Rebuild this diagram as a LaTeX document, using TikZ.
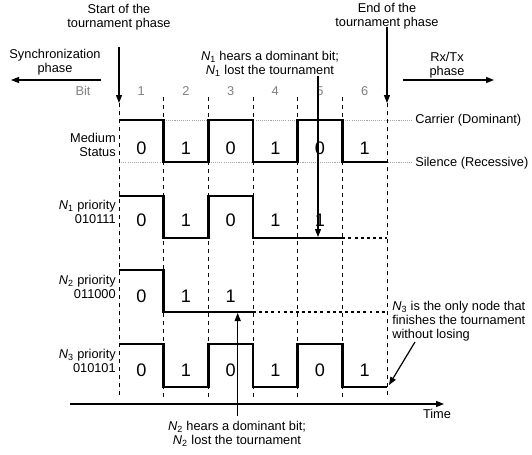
\documentclass[tikz,border=0pt]{standalone}
\usepackage{fontspec}
\setmainfont{Liberation Sans}
\usetikzlibrary{arrows.meta}
\begin{document}
\begin{tikzpicture}[x=0.75pt,y=-0.75pt,
  lbl/.style={font=\fontsize{9.6}{10.5}\selectfont, inner sep=0pt, align=center},
  lblr/.style={lbl, align=right, anchor=east},
  bitno/.style={font=\fontsize{9.6}{10.5}\selectfont, text=gray, inner sep=0pt},
  digit/.style={font=\fontsize{13.6}{13.6}\selectfont, inner sep=0pt},
  wave/.style={line width=2.2pt, line join=miter},
  wavedot/.style={line width=2.2pt, dash pattern=on 2.2pt off 2.4pt},
  slot/.style={line width=0.7pt, dash pattern=on 3pt off 3pt},
  guide/.style={gray!70, line width=0.5pt, dash pattern=on 0.8pt off 0.8pt},
  arr/.style={line width=0.9pt, -{Triangle[length=6pt,width=4.5pt]}}]
\useasboundingbox (0,0) rectangle (532,454);

% bit boundaries
\def\xa{119}\def\xb{163.7}\def\xc{208.3}\def\xd{253}\def\xe{297.7}\def\xf{342.3}\def\xg{387}

% guide levels of the medium
\draw[guide] (\xa,120) -- (413,120);
\draw[guide] (\xa,162) -- (413,162);
\node[lbl, anchor=west] (carrier) at (415,120) {Carrier (Dominant)};
\node[lbl, anchor=west] (silence) at (415,163) {Silence (Recessive)};

% slot separators
\foreach \x in {\xb,\xc,\xd,\xe,\xf} \draw[slot] (\x,97) -- (\x,397);
\draw[slot] (\xa,103) -- (\xa,397);
\draw[slot] (\xg,103) -- (\xg,397);

% bit numbers
\node[bitno] (bitlbl) at (83,91) {Bit};
\foreach \i/\x in {1/141.3,2/186,3/230.7,4/275.3,5/320,6/364.7}
  \node[bitno] (bit\i) at (\x,91) {\i};

% medium status
\node[lblr] (medlbl) at (116,144.5) {Medium\\Status};
\draw[wave] (\xa,120) -- (\xb,120) -- (\xb,162) -- (\xc,162) -- (\xc,120) -- (\xd,120)
  -- (\xd,162) -- (\xe,162) -- (\xe,120) -- (\xf,120) -- (\xf,162) -- (\xg,162);
\foreach \i/\x/\v in {1/141.3/0,2/186/1,3/230.7/0,4/275.3/1,5/320/0,6/364.7/1}
  \node[digit] (m\i) at (\x,148) {\v};

% node N1
\node[lblr] (n1lbl) at (116,211.5) {\textit{N}\textsubscript{1} priority\\010111};
\draw[wave] (\xa,196) -- (\xb,196) -- (\xb,238) -- (\xc,238) -- (\xc,196) -- (\xd,196)
  -- (\xd,238) -- (\xf,238);
\draw[wavedot] (\xf,238) -- (\xg,238);
\foreach \i/\x/\v in {1/141.3/0,2/186/1,3/230.7/0,4/275.3/1,5/320/1}
  \node[digit] (a\i) at (\x,220) {\v};

% node N2
\node[lblr] (n2lbl) at (116,287) {\textit{N}\textsubscript{2} priority\\011000};
\draw[wave] (\xa,270) -- (\xb,270) -- (\xb,312) -- (\xd,312);
\draw[wavedot] (\xd,312) -- (\xg,312);
\foreach \i/\x/\v in {1/141.3/0,2/186/1,3/230.7/1}
  \node[digit] (b\i) at (\x,296) {\v};

% node N3
\node[lblr] (n3lbl) at (116,361) {\textit{N}\textsubscript{3} priority\\010101};
\draw[wave] (\xa,344) -- (\xb,344) -- (\xb,387) -- (\xc,387) -- (\xc,344) -- (\xd,344)
  -- (\xd,387) -- (\xe,387) -- (\xe,344) -- (\xf,344) -- (\xf,387) -- (\xg,387);
\foreach \i/\x/\v in {1/141.3/0,2/186/1,3/230.7/0,4/275.3/1,5/320/0,6/364.7/1}
  \node[digit] (c\i) at (\x,370) {\v};

% time axis
\coordinate (t0) at (70,404);
\coordinate (t1) at (444,404);
\draw[arr] (t0) -- (t1);
\node[lbl] (time) at (437,414) {Time};

% phase boundaries
\node[lbl] (start) at (119,17) {Start of the\\tournament phase};
\coordinate (startend) at (\xa,103);
\draw[arr] (\xa,47) -- (startend);
\node[lbl] (end) at (387,16) {End of the\\tournament phase};
\coordinate (endend) at (\xg,103);
\draw[arr] (\xg,27) -- (endend);

\node[lbl] (sync) at (55,62) {Synchronization\\phase};
\coordinate (synca) at (101,80);
\coordinate (syncb) at (11,80);
\draw[arr] (synca) -- (syncb);

\node[lbl] (rxtx) at (447,65) {Rx/Tx\\phase};
\coordinate (rxa) at (403,80);
\coordinate (rxb) at (494,80);
\draw[arr] (rxa) -- (rxb);

% N1 loses
\node[lbl] (n1note) at (270,64) {\textit{N}\textsubscript{1} hears a dominant bit;\\\textit{N}\textsubscript{1} lost the tournament};
\coordinate (n1hit) at (318,237);
\draw[arr] (318,76) -- (n1hit);

% N2 loses
\node[lbl] (n2note) at (237,434) {\textit{N}\textsubscript{2} hears a dominant bit;\\\textit{N}\textsubscript{2} lost the tournament};
\coordinate (n2hit) at (237.7,313);
\draw[arr] (237.7,416) -- (n2hit);

% N3 wins
\node[lbl, align=left, anchor=north west] (n3note) at (392,301) {\textit{N}\textsubscript{3} is the only node that\\finishes the tournament\\without losing};
\coordinate (n3tail) at (415,342);
\coordinate (n3hit) at (389,385);
\draw[arr] (n3tail) -- (n3hit);
\end{tikzpicture}
\end{document}
